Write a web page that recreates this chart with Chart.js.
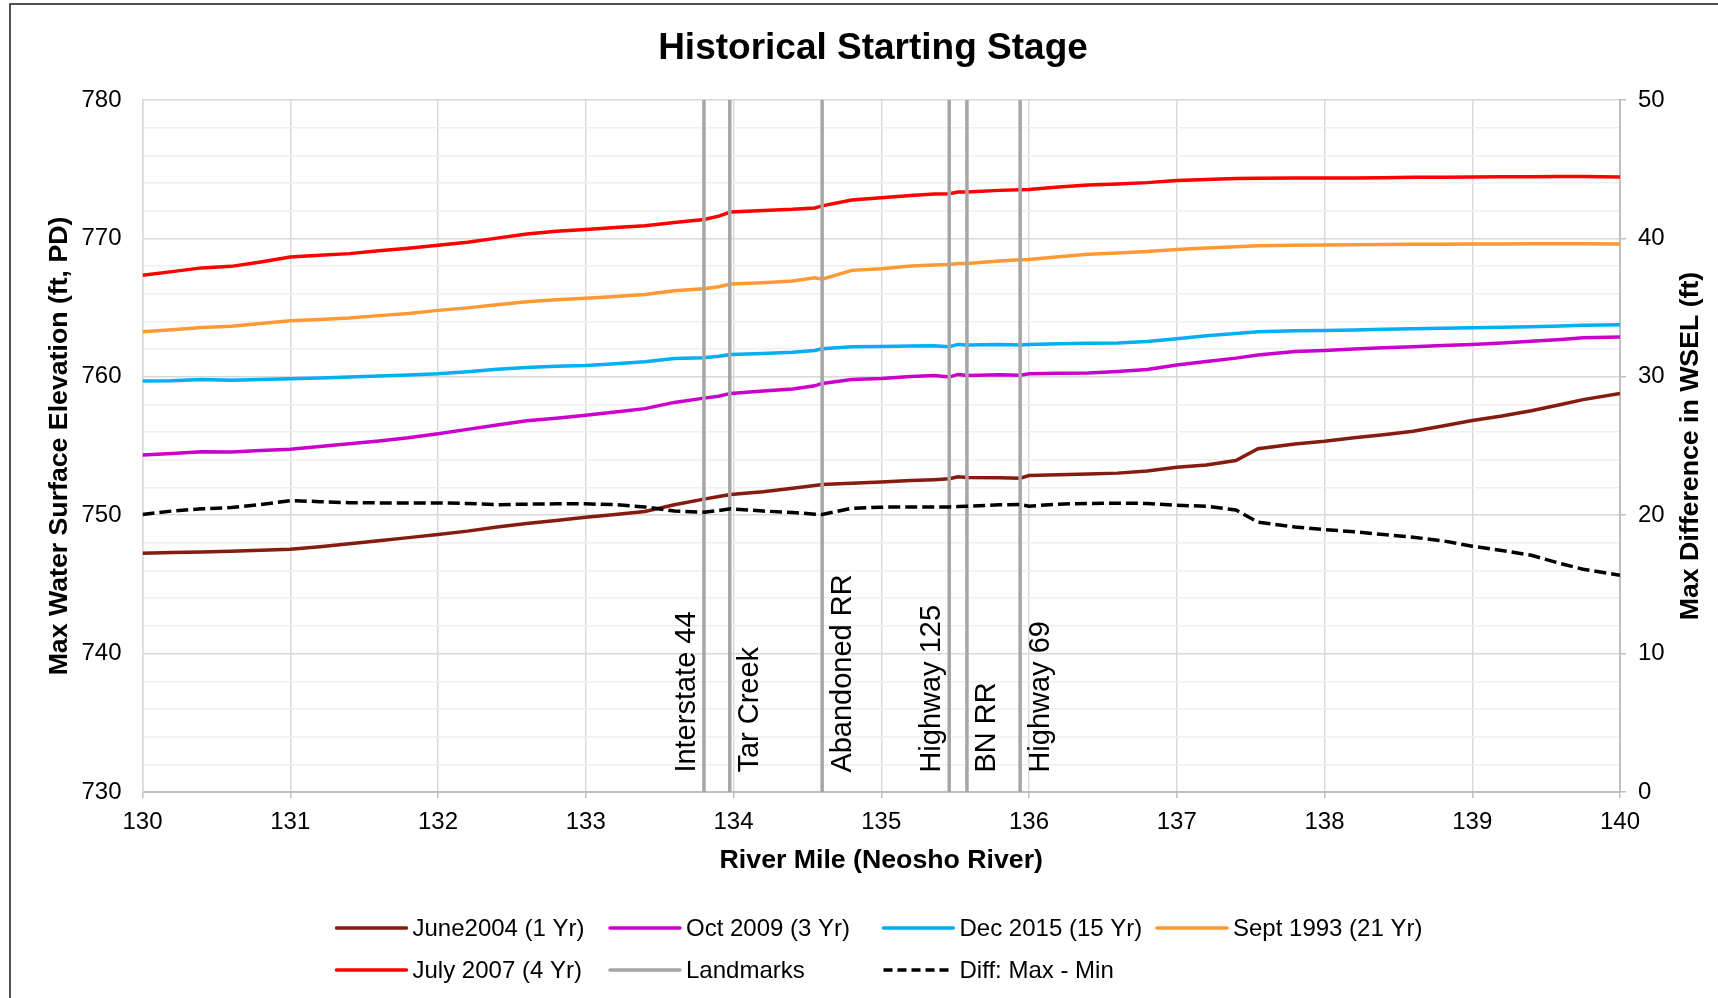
<!DOCTYPE html>
<html>
<head>
<meta charset="utf-8">
<title>Historical Starting Stage</title>
<script src="https://cdn.jsdelivr.net/npm/chart.js@4.4.1/dist/chart.umd.min.js"></script>
<style>
  html, body { margin: 0; padding: 0; background: #ffffff; }
  #wrap { position: relative; width: 1718px; height: 998px; overflow: hidden; }
  canvas { display: block; }
</style>
</head>
<body>
<div id="wrap"><canvas id="stage" width="1718" height="998"></canvas></div>
<script>
// River stations (mi) shared by every profile
const riverMile = [130.0, 130.2, 130.4, 130.6, 130.8, 131.0, 131.2, 131.4, 131.6, 131.8,
  132.0, 132.2, 132.4, 132.6, 132.8, 133.0, 133.2, 133.4, 133.6, 133.8,
  133.9, 133.98, 134.2, 134.4, 134.55, 134.6, 134.8, 135.0, 135.2, 135.36,
  135.46, 135.52, 135.58, 135.8, 135.94, 136.0, 136.2, 136.4, 136.6, 136.8,
  137.0, 137.2, 137.4, 137.55, 137.8, 138.0, 138.2, 138.4, 138.6, 138.8,
  139.0, 139.2, 139.4, 139.6, 139.75, 140.0];

// Max water surface elevation (ft, PD) for each historical event
const june2004 = [747.25, 747.30, 747.34, 747.40, 747.46, 747.54, 747.72, 747.94, 748.15, 748.38,
  748.60, 748.85, 749.15, 749.40, 749.62, 749.86, 750.05, 750.27, 750.75, 751.16,
  751.35, 751.49, 751.70, 751.95, 752.15, 752.22, 752.31, 752.39, 752.50, 752.57,
  752.63, 752.77, 752.72, 752.70, 752.67, 752.87, 752.92, 752.98, 753.04, 753.20,
  753.47, 753.62, 753.95, 754.80, 755.15, 755.35, 755.60, 755.82, 756.07, 756.45,
  756.84, 757.17, 757.55, 758.00, 758.35, 758.80];
const oct2009 = [754.35, 754.45, 754.59, 754.56, 754.67, 754.76, 754.97, 755.16, 755.36, 755.60,
  755.89, 756.20, 756.52, 756.82, 757.00, 757.22, 757.45, 757.70, 758.15, 758.46,
  758.60, 758.80, 758.98, 759.12, 759.35, 759.52, 759.80, 759.88, 760.02, 760.10,
  759.98, 760.17, 760.10, 760.15, 760.12, 760.22, 760.25, 760.28, 760.38, 760.52,
  760.85, 761.10, 761.35, 761.58, 761.83, 761.90, 762.00, 762.10, 762.17, 762.27,
  762.34, 762.44, 762.56, 762.70, 762.82, 762.87];
const dec2015 = [759.69, 759.72, 759.81, 759.75, 759.80, 759.86, 759.92, 759.98, 760.05, 760.13,
  760.22, 760.37, 760.55, 760.68, 760.76, 760.82, 760.94, 761.08, 761.32, 761.37,
  761.48, 761.61, 761.69, 761.78, 761.90, 762.02, 762.17, 762.19, 762.23, 762.25,
  762.18, 762.34, 762.29, 762.34, 762.29, 762.34, 762.38, 762.42, 762.45, 762.55,
  762.75, 762.97, 763.12, 763.25, 763.32, 763.35, 763.39, 763.43, 763.47, 763.51,
  763.54, 763.58, 763.62, 763.67, 763.73, 763.76];
const sept1993 = [763.26, 763.40, 763.57, 763.65, 763.85, 764.05, 764.14, 764.25, 764.42, 764.58,
  764.80, 764.98, 765.20, 765.42, 765.56, 765.68, 765.80, 765.94, 766.22, 766.36,
  766.51, 766.70, 766.80, 766.92, 767.15, 767.05, 767.69, 767.81, 768.00, 768.07,
  768.12, 768.19, 768.19, 768.36, 768.46, 768.48, 768.67, 768.85, 768.95, 769.05,
  769.20, 769.31, 769.40, 769.46, 769.50, 769.52, 769.54, 769.56, 769.57, 769.58,
  769.59, 769.60, 769.61, 769.61, 769.61, 769.59];
const july2007 = [767.34, 767.60, 767.87, 767.98, 768.30, 768.66, 768.78, 768.90, 769.10, 769.28,
  769.50, 769.72, 770.02, 770.32, 770.52, 770.65, 770.78, 770.92, 771.15, 771.37,
  771.61, 771.90, 772.02, 772.10, 772.20, 772.35, 772.77, 772.94, 773.10, 773.20,
  773.23, 773.35, 773.36, 773.47, 773.52, 773.54, 773.72, 773.86, 773.93, 774.03,
  774.19, 774.26, 774.32, 774.35, 774.36, 774.36, 774.37, 774.39, 774.41, 774.42,
  774.43, 774.45, 774.46, 774.47, 774.48, 774.43];

// Spread between the highest and lowest profile (ft), secondary axis
const diffMaxMin = [20.05, 20.30, 20.46, 20.55, 20.77, 21.05, 20.98, 20.90, 20.89, 20.89,
  20.89, 20.85, 20.76, 20.80, 20.82, 20.82, 20.76, 20.60, 20.30, 20.22,
  20.34, 20.46, 20.30, 20.20, 20.07, 20.05, 20.50, 20.58, 20.60, 20.60,
  20.60, 20.62, 20.65, 20.75, 20.77, 20.65, 20.80, 20.85, 20.87, 20.85,
  20.72, 20.65, 20.38, 19.50, 19.15, 18.96, 18.80, 18.60, 18.41, 18.15,
  17.76, 17.45, 17.10, 16.50, 16.10, 15.66];

// Crossings along the reach
const landmarkMile = [133.80, 133.975, 134.60, 135.46, 135.58, 135.94];
const landmarkName = ['Interstate 44', 'Tar Creek', 'Abandoned RR', 'Highway 125', 'BN RR', 'Highway 69'];
const landmarkSide = ['left', 'right', 'right', 'left', 'right', 'right'];

// Axis ticks
const mileTicks = [130, 131, 132, 133, 134, 135, 136, 137, 138, 139, 140];
const elevTicks = [730, 740, 750, 760, 770, 780];
const diffTicks = [0, 10, 20, 30, 40, 50];

const FONT = '"Liberation Sans", Arial, Helvetica, sans-serif';

function profile(values) {
  return riverMile.map((m, i) => ({ x: m, y: values[i] }));
}

// vertical segments from the bottom to the top of the elevation axis, broken by gaps
const landmarkPoints = [];
landmarkMile.forEach(m => {
  landmarkPoints.push({ x: m, y: elevTicks[0] }, { x: m, y: elevTicks[elevTicks.length - 1] }, { x: m, y: null });
});

const lineBase = { pointRadius: 0, pointHoverRadius: 0, borderWidth: 3.5, tension: 0, fill: false, spanGaps: false };

const datasets = [
  { ...lineBase, label: 'June2004 (1 Yr)', data: profile(june2004), borderColor: '#861b10', yAxisID: 'y', order: 6 },
  { ...lineBase, label: 'Oct 2009 (3 Yr)', data: profile(oct2009), borderColor: '#cc00cc', yAxisID: 'y', order: 5 },
  { ...lineBase, label: 'Dec 2015 (15 Yr)', data: profile(dec2015), borderColor: '#00b0f0', yAxisID: 'y', order: 4 },
  { ...lineBase, label: 'Sept 1993 (21 Yr)', data: profile(sept1993), borderColor: '#ff9933', yAxisID: 'y', order: 3 },
  { ...lineBase, label: 'July 2007 (4 Yr)', data: profile(july2007), borderColor: '#ff0000', yAxisID: 'y', order: 2 },
  { ...lineBase, label: 'Landmarks', data: landmarkPoints, borderColor: '#a6a6a6', yAxisID: 'y', order: 1 },
  { ...lineBase, label: 'Diff: Max - Min', data: profile(diffMaxMin), borderColor: '#000000', borderDash: [12, 5], yAxisID: 'y2', order: 0 }
];

// white page with the chart frame
const frame = {
  id: 'frame',
  beforeDraw(chart) {
    const { ctx } = chart;
    ctx.save();
    ctx.fillStyle = '#ffffff';
    ctx.fillRect(0, 0, chart.width, chart.height);
    ctx.strokeStyle = '#3a3a3a';
    ctx.lineWidth = 1.75;
    ctx.strokeRect(10, 4, chart.width + 40, chart.height + 40);
    ctx.restore();
  }
};

// chart title
const headline = {
  id: 'headline',
  afterDraw(chart) {
    const { ctx } = chart;
    ctx.save();
    ctx.font = 'bold 37px ' + FONT;
    ctx.fillStyle = '#000';
    ctx.textAlign = 'center';
    ctx.textBaseline = 'alphabetic';
    ctx.fillText('Historical Starting Stage', 873, 59);
    ctx.restore();
  }
};

// names of the crossings, written upward beside each vertical line
const landmarkLabels = {
  id: 'landmarkLabels',
  afterDatasetsDraw(chart) {
    const { ctx } = chart;
    const x = chart.scales.x, y = chart.scales.y;
    const py = y.getPixelForValue(731.4);
    ctx.save();
    ctx.font = '29px ' + FONT;
    ctx.fillStyle = '#000';
    ctx.textAlign = 'left';
    ctx.textBaseline = 'alphabetic';
    landmarkMile.forEach((m, i) => {
      const px = x.getPixelForValue(m);
      const dx = landmarkSide[i] === 'left' ? -9 : 28.5;
      ctx.save();
      ctx.translate(px + dx, py);
      ctx.rotate(-Math.PI / 2);
      ctx.fillText(landmarkName[i], 0, 0);
      ctx.restore();
    });
    ctx.restore();
  }
};

// secondary axis title, reading bottom to top
const rightTitle = {
  id: 'rightTitle',
  afterDraw(chart) {
    const { ctx, chartArea } = chart;
    const s = chart.scales.y2;
    ctx.save();
    ctx.font = 'bold 26.7px ' + FONT;
    ctx.fillStyle = '#000';
    ctx.textAlign = 'center';
    ctx.textBaseline = 'middle';
    ctx.translate(s.left + 71, (chartArea.top + chartArea.bottom) / 2);
    ctx.rotate(-Math.PI / 2);
    ctx.fillText('Max Difference in WSEL (ft)', 0, 0);
    ctx.restore();
  }
};

// two-row legend under the plot with fixed columns
const bottomLegend = {
  id: 'bottomLegend',
  afterDraw(chart) {
    const { ctx } = chart;
    const cols = 4, left = 336.5, colW = 273.5, top = 928, rowH = 42, sample = 70, gap = 6;
    ctx.save();
    ctx.font = '24px ' + FONT;
    ctx.textAlign = 'left';
    ctx.textBaseline = 'middle';
    chart.data.datasets.forEach((ds, i) => {
      const cx = left + (i % cols) * colW;
      const cy = top + Math.floor(i / cols) * rowH;
      ctx.save();
      ctx.strokeStyle = ds.borderColor;
      ctx.lineWidth = ds.borderWidth;
      ctx.lineCap = 'round';
      if (ds.borderDash) { ctx.setLineDash([9, 5]); ctx.lineCap = 'butt'; }
      ctx.beginPath();
      ctx.moveTo(cx, cy);
      ctx.lineTo(cx + sample, cy);
      ctx.stroke();
      ctx.restore();
      ctx.fillStyle = '#000';
      ctx.fillText(ds.label, cx + sample + gap, cy + 1);
    });
    ctx.restore();
  }
};

new Chart(document.getElementById('stage'), {
  type: 'line',
  data: { datasets },
  plugins: [frame, landmarkLabels, headline, rightTitle, bottomLegend],
  options: {
    responsive: false,
    animation: false,
    devicePixelRatio: 1,
    parsing: true,
    layout: { padding: { top: 100, bottom: 121, left: 0, right: 0 } },
    plugins: {
      legend: { display: false },
      title: { display: false },
      tooltip: { enabled: false }
    },
    scales: {
      x: {
        type: 'linear',
        min: mileTicks[0],
        max: mileTicks[mileTicks.length - 1],
        afterBuildTicks: s => { s.ticks = mileTicks.map(v => ({ value: v })); },
        afterFit: s => { s.height = 85; },
        grid: { color: '#d9d9d9', lineWidth: 1.5, drawTicks: true, tickLength: 6, tickColor: '#bfbfbf', tickWidth: 1.5 },
        border: { display: true, color: '#bfbfbf', width: 2 },
        ticks: { font: { family: FONT, size: 24 }, color: '#000', padding: 10, maxRotation: 0, autoSkip: false, callback: v => String(v) },
        title: { display: true, text: 'River Mile (Neosho River)', color: '#000', font: { family: FONT, size: 26.7, weight: 'bold' }, padding: { top: 0, bottom: 0 } }
      },
      y: {
        position: 'left',
        min: elevTicks[0],
        max: elevTicks[elevTicks.length - 1],
        afterBuildTicks: s => {
          const t = [];
          elevTicks.forEach((v, i) => {
            t.push({ value: v });
            if (i < elevTicks.length - 1) {
              const step = (elevTicks[i + 1] - v) / 5;
              for (let k = 1; k < 5; k++) t.push({ value: v + k * step });
            }
          });
          s.ticks = t;
        },
        afterFit: s => { s.width = 142.5; },
        grid: {
          drawTicks: false,
          lineWidth: 1.5,
          color: c => elevTicks.includes(c.tick.value) ? '#d9d9d9' : '#f0f0f0'
        },
        border: { display: true, color: '#d9d9d9', width: 1.5 },
        ticks: { font: { family: FONT, size: 24 }, color: '#000', padding: 21, autoSkip: false, callback: v => elevTicks.includes(v) ? String(v) : '' },
        title: { display: true, text: 'Max Water Surface Elevation (ft, PD)', color: '#000', font: { family: FONT, size: 26.7, weight: 'bold' }, padding: { top: 44, bottom: 0 } }
      },
      y2: {
        position: 'right',
        min: diffTicks[0],
        max: diffTicks[diffTicks.length - 1],
        afterBuildTicks: s => { s.ticks = diffTicks.map(v => ({ value: v })); },
        afterFit: s => { s.width = 98; },
        grid: { drawOnChartArea: false, drawTicks: true, tickLength: 6, color: '#bfbfbf', lineWidth: 1.5 },
        border: { display: true, color: '#bfbfbf', width: 2 },
        ticks: { font: { family: FONT, size: 24 }, color: '#000', padding: 12, autoSkip: false, callback: v => String(v) },
        title: { display: false }
      }
    }
  }
});
</script>
</body>
</html>
